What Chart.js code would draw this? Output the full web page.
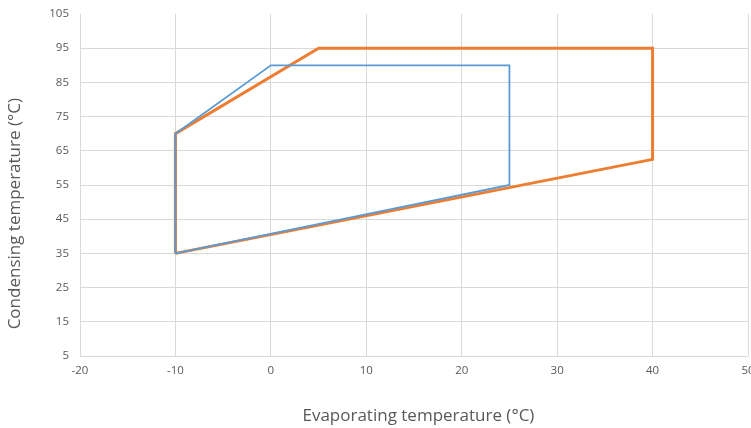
<!DOCTYPE html>
<html>
<head>
<meta charset="utf-8">
<script src="https://cdn.jsdelivr.net/npm/chart.js@4/dist/chart.umd.min.js"></script>
<style>
    html, body { margin: 0; padding: 0; background: #fff; overflow: hidden; }
    #wrap { width: 751px; height: 428px; position: relative; }
</style>
</head>
<body>
<div id="wrap"><canvas id="chart"></canvas></div>
<script>
// envelope corners
var blueX = [-10, -10, 0, 25, 25, -10];
var blueY = [35, 70, 90, 90, 55, 35];
var orangeX = [-10, -10, 5, 40, 40, -10];
var orangeY = [35, 70, 95, 95, 62.5, 35];

var xTicks = [-20, -10, 0, 10, 20, 30, 40, 50];
var yTicks = [5, 15, 25, 35, 45, 55, 65, 75, 85, 95, 105];

function toPoints(xs, ys) {
    return xs.map(function(x, i) { return { x: x, y: ys[i] }; });
}

var textColor = '#595959';
var gridColor = '#d9d9d9';

new Chart(document.getElementById('chart').getContext('2d'), {
    type: 'scatter',
    data: {
        datasets: [{
            label: 'Blue',
            data: toPoints(blueX, blueY),
            showLine: true,
            borderColor: '#5b9bd5',
            backgroundColor: '#5b9bd5',
            borderWidth: 1.8,
            pointRadius: 0,
            order: 1
        }, {
            label: 'Orange',
            data: toPoints(orangeX, orangeY),
            showLine: true,
            borderColor: '#ed7d31',
            backgroundColor: '#ed7d31',
            borderWidth: 3,
            pointRadius: 0,
            order: 2
        }]
    },
    options: {
        responsive: true,
        maintainAspectRatio: false,
        animation: false,
        layout: { padding: { top: 14, right: 3, left: 0, bottom: 0 } },
        plugins: {
            legend: { display: false },
            tooltip: { enabled: false }
        },
        scales: {
            x: {
                type: 'linear',
                min: -20,
                max: 50,
                afterBuildTicks: function(scale) {
                    scale.ticks = xTicks.map(function(v) { return { value: v }; });
                },
                afterFit: function(scale) {
                    scale.height = 72;
                    scale.paddingRight = 0;
                    scale.paddingLeft = 0;
                },
                border: { display: false },
                grid: { color: gridColor, drawTicks: false },
                ticks: {
                    color: textColor,
                    padding: 8,
                    font: { family: 'Open Sans', size: 11.5 }
                },
                title: {
                    display: true,
                    text: '  Evaporating temperature (°C)',
                    color: textColor,
                    padding: { top: 28, bottom: 2 },
                    font: { family: 'Open Sans', size: 17 }
                }
            },
            y: {
                type: 'linear',
                min: 5,
                max: 105,
                afterBuildTicks: function(scale) {
                    scale.ticks = yTicks.map(function(v) { return { value: v }; });
                },
                afterFit: function(scale) {
                    scale.width = 80;
                    scale.paddingTop = 0;
                    scale.paddingBottom = 0;
                },
                border: { display: false },
                grid: {
                    color: function(ctx) {
                        return ctx.tick && ctx.tick.value === 105 ? 'rgba(0,0,0,0)' : gridColor;
                    },
                    drawTicks: false
                },
                ticks: {
                    color: textColor,
                    padding: 11,
                    font: { family: 'Open Sans', size: 11.5 }
                },
                title: {
                    display: true,
                    // trailing spaces push the text down to where the original sits
                    text: 'Condensing temperature (°C)             ',
                    color: textColor,
                    padding: { top: 5, bottom: 4 },
                    font: { family: 'Open Sans', size: 17 }
                }
            }
        }
    }
});
</script>
</body>
</html>
